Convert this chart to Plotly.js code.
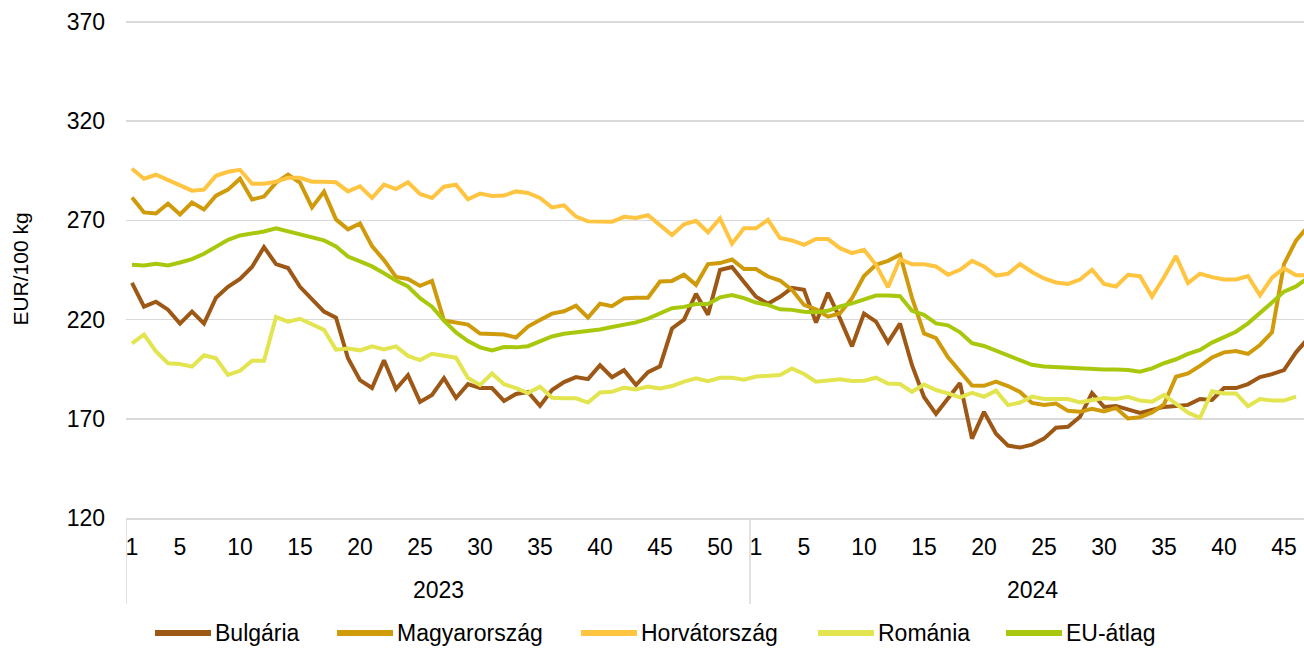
<!DOCTYPE html>
<html><head><meta charset="utf-8">
<script src="https://cdn.plot.ly/plotly-3.0.1.min.js"></script>
<style>html,body{margin:0;padding:0;background:#fff;}#chart{width:1304px;height:648px;}</style>
</head><body><div id="chart"></div>
<script>
// ---- categories ----
const years = ['2023', '2024'];
const weeksPerYear = [52, 47];
const tickWeeks = [1, 5, 10, 15, 20, 25, 30, 35, 40, 45, 50];

// ---- series (2023 weeks 1-52, then 2024 weeks 1-47) ----
const seriesNames = ['Bulgária', 'Magyarország', 'Horvátország', 'Románia', 'EU-átlag'];
const seriesColors = ['#9E5816', '#D09B0A', '#FFC440', '#E2E450', '#A8C80E'];

const bulgaria = [
  238.5,226.5,229,225,218,224,218,231,236.5,240.5,
  246.5,256.5,248,246,236.5,230.5,224,221,200.5,189.5,
  185.5,199.5,185,192,178.5,182,190.5,180.5,187.5,185.5,
  185.5,179,182.5,183.5,176.5,184.5,188.5,191,190,197,
  191,194.5,187,193.5,196.5,215.5,220,233,222.5,245,
  246.5,239,
  231.5,228,231.5,236,235,218.5,233.5,220.5,206.5,223,
  219,208.5,218,197,181,172.5,180,188,160,173.5,
  162.5,156.5,155.5,157,160,165.5,166,171,183,176,
  176.5,175,173,174.5,176,176.5,177,180,179.5,185.5,
  185.5,187.5,191,192.5,194.5,203.5,210.5
];
const magyarorszag = [
  281.5,274,273.5,278.5,273,279,275.5,282.5,285.5,291,
  280.5,282,289,293,289,276.5,284.5,270.5,265.5,268.5,
  257,250,241.5,240.5,237,239.5,219.5,218.5,217.5,213,
  213,212.5,211,216.5,219.8,223,224.2,227,221,228,
  226.8,230.6,231,231,239.2,239.5,242.6,237.5,248,248.5,
  250.3,245.5,
  245.5,241.7,239.7,235,227.4,225.2,221.5,223.2,230.8,242,
  247.6,249.6,252.7,231,213,210.6,201,194,186.8,186.6,
  188.7,186.5,183.5,178,177,177.7,174,173.5,175,173.7,
  175.5,170.2,170.8,173.2,177.3,191.2,192.9,196.7,200.9,203.5,
  204.2,202.7,207.2,213.6,248,259.8,267
];
const horvatorszag = [
  296,291,293,290.5,287.5,285,285.5,292.5,294.5,295.5,
  288.5,288.5,289.5,291.5,291.5,289.5,289.5,289.2,284.6,287.2,
  281.3,288,285.8,289.2,283.3,281.3,287,288,280.6,283.5,
  282.3,282.5,284.6,283.8,281.3,276.5,277.6,271.9,269.5,269.6,
  269.3,271.8,271.2,272.6,267.5,262.6,268,269.8,264,271,
  258.2,266,
  266,270.3,261.1,259.9,257.7,260.6,260.6,256,253.5,255.2,
  247.6,236.3,250.5,247.9,247.9,246.8,242.6,245.1,249.6,246.8,
  242.2,243.1,248,244,240.7,238.7,238,240.2,245.1,238,
  236.7,242.6,241.9,231.6,241.3,252,238.4,243.1,241.4,240.2,
  240.2,241.9,232.2,241.1,245.9,242.4,242.4
];
const romania = [
  208,212.5,204,198,197.6,196.3,202,200.5,192.1,194.2,
  199.3,199.3,221.3,219,220.4,217.5,214.8,204.8,205.4,204.5,
  206.5,205,206.5,201.7,199.6,202.8,201.7,200.8,190.6,187,
  192.8,187.4,185.5,183,186.2,180.6,180.3,180.3,178.2,183.3,
  183.6,185.7,184.8,186.2,185.3,186.5,188.7,190.4,189,190.7,
  190.7,189.7,
  191.3,191.7,192.1,195.4,192.6,188.7,189.5,189.9,189,189.2,
  190.7,187.8,187.5,183.6,187.3,184.5,182.8,180.8,183.1,181.1,
  184.2,176.9,178.2,181.2,180,180,180,178.3,179.4,180.5,
  180,181.1,179.2,178.6,182,177.3,173.1,170.5,183.9,182.8,
  182.8,176.4,180,179.2,179.2,181.2,null
];
const euAtlag = [
  247.6,247.3,248.1,247.3,248.8,250.5,253.2,256.9,260.2,262.4,
  263.3,264.4,266,264.4,262.8,261.1,259.9,256.9,251.8,249.3,
  246.8,243.4,239.7,236.7,230.8,226.5,219.5,213.5,209.2,206,
  204.5,206.2,206,206.6,209.3,211.5,212.9,213.6,213.9,215,
  216.3,217.6,218.6,220.5,223,225.7,226.4,227.8,227.9,231.2,
  232.4,230.8,
  228.6,227.4,225.2,224.9,224,223.7,224.4,226.6,228.2,230.3,
  232.1,232.1,231.8,224.4,222.4,218.1,217.1,213.6,208.1,206.7,
  204.3,201.8,199.4,197.2,196.4,196,195.5,195.1,194.9,194.8,
  194.8,194.6,193.7,195.4,198,200,202.7,204.7,208.4,210.9,
  213.9,218.1,223.2,228.6,234.1,236.7,241
];
const seriesValues = [bulgaria, magyarorszag, horvatorszag, romania, euAtlag];

// ---- build category positions ----
const catYear = [], catWeek = [];
years.forEach((y, i) => { for (let w = 1; w <= weeksPerYear[i]; w++) { catYear.push(y); catWeek.push(w); } });
const xIdx = catWeek.map((_, i) => i);

const tickvals = [], ticktext = [];
catWeek.forEach((w, i) => { if (tickWeeks.includes(w)) { tickvals.push(i); ticktext.push(String(w)); } });

const traces = seriesValues.map((vals, k) => ({
  type: 'scatter', mode: 'lines', name: seriesNames[k],
  x: xIdx, y: vals,
  line: { color: seriesColors[k], width: 4, shape: 'linear' },
  connectgaps: false, hoverinfo: 'x+y+name'
}));

// ---- layout geometry ----
const W = 1304, H = 648;
const M = { l: 126, r: 0, t: 20, b: 130 };
const plotW = W - M.l - M.r, plotH = H - M.t - M.b;
const pxToPaperX = px => (px - M.l) / plotW;
const pxToPaperY = py => (H - M.b - py) / plotH;
const gridColor = '#d9d9d9';
const FS = 23;

const shapes = [];
const annotations = [];
// group separators and year labels
let start = 0;
years.forEach((y, i) => {
  const end = start + weeksPerYear[i] - 1;
  shapes.push({ type: 'line', xref: 'x', yref: 'paper', x0: start - 0.5, x1: start - 0.5,
    y0: 0, y1: pxToPaperY(604), line: { color: gridColor, width: 1.5 } });
  annotations.push({ xref: 'x', yref: 'paper', x: (start + end) / 2, y: pxToPaperY(590),
    text: y, showarrow: false, xanchor: 'center', yanchor: 'middle',
    font: { size: FS, color: '#000' } });
  start = end + 1;
});
shapes.push({ type: 'line', xref: 'x', yref: 'paper', x0: start - 0.5, x1: start - 0.5,
  y0: 0, y1: pxToPaperY(604), line: { color: gridColor, width: 1.5 } });

// manual legend
const legendStarts = [155, 337, 581, 818, 1006];
const legendY = 633;
seriesNames.forEach((n, k) => {
  const x0 = legendStarts[k];
  shapes.push({ type: 'line', xref: 'paper', yref: 'paper',
    x0: pxToPaperX(x0), x1: pxToPaperX(x0 + 56), y0: pxToPaperY(legendY), y1: pxToPaperY(legendY),
    line: { color: seriesColors[k], width: 6 } });
  annotations.push({ xref: 'paper', yref: 'paper', x: pxToPaperX(x0 + 58), y: pxToPaperY(legendY),
    text: n, showarrow: false, xanchor: 'left', yanchor: 'middle',
    font: { size: FS, color: '#000' } });
});

const layout = {
  width: W, height: H, margin: M,
  paper_bgcolor: '#fff', plot_bgcolor: '#fff',
  font: { family: 'Liberation Sans, Arial, sans-serif', size: FS, color: '#000' },
  showlegend: false,
  xaxis: {
    type: 'linear', range: [-0.5, -0.5 + plotW / 12], fixedrange: true,
    tickmode: 'array', tickvals: tickvals, ticktext: ticktext,
    showgrid: false, zeroline: false, showline: true, linecolor: gridColor, linewidth: 1.5,
    ticks: '', ticklabelstandoff: 8, tickfont: { size: FS, color: '#000' }
  },
  yaxis: {
    range: [120, 371], tickmode: 'array', tickvals: [120, 170, 220, 270, 320, 370],
    showgrid: true, gridcolor: gridColor, gridwidth: 1.5, zeroline: false, showline: false,
    ticks: '', ticklabelstandoff: 20, tickfont: { size: FS, color: '#000' },
    title: { text: 'EUR/100 kg', font: { size: 21, color: '#000' }, standoff: 32 }
  },
  shapes: shapes, annotations: annotations
};

Plotly.newPlot('chart', traces, layout, { displayModeBar: false, staticPlot: true });
</script></body></html>
